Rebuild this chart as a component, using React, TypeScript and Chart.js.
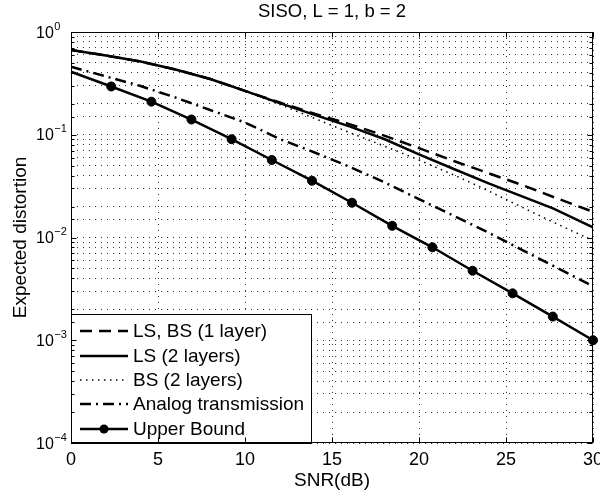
import React, { useEffect, useRef } from 'react';
import { Chart, registerables } from 'chart.js';
Chart.register(...registerables);

// ---- text ----
const chartTitle = 'SISO, L = 1, b = 2';
const xAxisTitle = 'SNR(dB)';
const yAxisTitle = 'Expected distortion';
const xTickValues = [0, 5, 10, 15, 20, 25, 30];
const yTickExponents = [0, -1, -2, -3, -4];

// ---- data ----
const snrGrid = [0, 2, 4, 6, 8, 10, 12, 14, 16, 18, 20, 22, 24, 26, 28, 30];
const lsBs1Layer = [0.668, 0.591, 0.516, 0.432, 0.349, 0.267, 0.206, 0.160, 0.127, 0.0981, 0.0741, 0.0555, 0.0422, 0.0321, 0.0238, 0.0178];
const ls2LayersSnr = [0, 2, 4, 6, 8, 10, 12, 14, 16, 18, 20, 22, 24, 26, 27.7, 30];
const ls2Layers = [0.668, 0.591, 0.516, 0.432, 0.349, 0.267, 0.203, 0.156, 0.1206, 0.0909, 0.0644, 0.0464, 0.0337, 0.0249, 0.0192, 0.01257];
const bs2Layers = [0.668, 0.591, 0.516, 0.432, 0.349, 0.267, 0.197, 0.144, 0.1052, 0.0777, 0.0568, 0.0406, 0.0284, 0.0194, 0.01338, 0.00935];
const analogTx = [0.459, 0.370, 0.298, 0.2304, 0.1741, 0.1316, 0.0908, 0.0672, 0.0489, 0.0345, 0.0236, 0.01626, 0.01116, 0.00747, 0.00500, 0.00336];
const upperSnr = [0, 2.31, 4.62, 6.92, 9.23, 11.54, 13.85, 16.15, 18.46, 20.77, 23.08, 25.38, 27.69, 30];
const upperBound = [0.41, 0.295, 0.210, 0.1407, 0.0905, 0.0568, 0.0357, 0.0218, 0.0130, 0.00803, 0.00475, 0.00286, 0.00170, 0.0010];
const seriesLabels = ['LS, BS (1 layer)', 'LS (2 layers)', 'BS (2 layers)', 'Analog transmission', 'Upper Bound'];

const FONT = '"Liberation Sans", Arial, Helvetica, sans-serif';

const pts = (xs: number[], ys: number[]) => xs.map((x, i) => ({ x, y: ys[i] }));

const decorPlugin = {
  id: 'decor',
  afterDraw(chart: any) {
    const { ctx, chartArea: a, scales } = chart;
    const xs = scales.x;
    const ys = scales.y;
    ctx.save();
    ctx.fillStyle = '#000';
    ctx.strokeStyle = '#000';

    // legend
    const lx = a.left, lw = 240, lh = 129, ly = a.bottom - lh;
    ctx.fillStyle = '#fff';
    ctx.fillRect(lx, ly, lw, lh);
    ctx.lineWidth = 1;
    ctx.setLineDash([]);
    ctx.strokeRect(Math.round(lx) + 0.5, Math.round(ly) + 0.5, lw, lh);
    const rowY = [17, 42, 66, 90, 115];
    chart.data.datasets.forEach((ds: any, i: number) => {
      const y = ly + rowY[i];
      ctx.save();
      ctx.strokeStyle = '#000';
      ctx.lineWidth = ds.borderWidth;
      ctx.setLineDash(ds.borderDash || []);
      ctx.beginPath();
      ctx.moveTo(lx + 9, y);
      ctx.lineTo(lx + 57, y);
      ctx.stroke();
      ctx.setLineDash([]);
      if (ds.legendMarker) {
        ctx.fillStyle = '#000';
        ctx.beginPath();
        ctx.arc(lx + 33, y, 4.5, 0, Math.PI * 2);
        ctx.fill();
      }
      ctx.fillStyle = '#000';
      ctx.font = `19px ${FONT}`;
      ctx.textAlign = 'left';
      ctx.textBaseline = 'middle';
      ctx.fillText(ds.label, lx + 62, y + 1);
      ctx.restore();
    });

    // frame
    ctx.setLineDash([]);
    ctx.lineWidth = 1;
    ctx.strokeStyle = '#000';
    const L = Math.round(a.left) + 0.5, R = Math.round(a.right) - 0.5;
    const T = Math.round(a.top) + 0.5, B = Math.round(a.bottom) - 0.5;
    ctx.strokeRect(L, T, R - L, B - T);

    // x ticks (inward, bottom & top)
    ctx.beginPath();
    xTickValues.forEach((v) => {
      const px = Math.round(xs.getPixelForValue(v)) + 0.5;
      ctx.moveTo(px, B); ctx.lineTo(px, B - 5);
      ctx.moveTo(px, T); ctx.lineTo(px, T + 5);
    });
    // y ticks (inward, left & right)
    ys.ticks.forEach((t: any) => {
      const lg = Math.log10(t.value);
      const major = Math.abs(lg - Math.round(lg)) < 1e-6;
      const len = major ? 5 : 3;
      const py = Math.round(ys.getPixelForValue(t.value)) + 0.5;
      ctx.moveTo(L, py); ctx.lineTo(L + len, py);
      ctx.moveTo(R, py); ctx.lineTo(R - len, py);
    });
    ctx.stroke();

    // x tick labels
    ctx.fillStyle = '#000';
    ctx.font = `18px ${FONT}`;
    ctx.textAlign = 'center';
    ctx.textBaseline = 'alphabetic';
    xTickValues.forEach((v) => {
      ctx.fillText(String(v), xs.getPixelForValue(v), 465);
    });

    // y tick labels 10^e
    yTickExponents.forEach((e) => {
      const py = ys.getPixelForValue(Math.pow(10, e));
      ctx.font = `16px ${FONT}`;
      ctx.textAlign = 'left';
      ctx.textBaseline = 'alphabetic';
      ctx.fillText('10', 36, py + 5.5);
      const w = ctx.measureText('10').width;
      ctx.font = `11px ${FONT}`;
      ctx.fillText(e === 0 ? '0' : '\u2212' + String(-e), 36 + w + 0.5, py - 2.5);
    });

    // titles
    ctx.font = `18.5px ${FONT}`;
    ctx.textAlign = 'center';
    ctx.textBaseline = 'alphabetic';
    ctx.fillText(chartTitle, (a.left + a.right) / 2, 17);
    ctx.font = `19px ${FONT}`;
    ctx.fillText(xAxisTitle, (a.left + a.right) / 2, 486);
    ctx.save();
    ctx.translate(26, (a.top + a.bottom) / 2);
    ctx.rotate(-Math.PI / 2);
    ctx.fillText(yAxisTitle, 0, 0);
    ctx.restore();

    ctx.restore();
  },
};

export default function App() {
  const ref = useRef<HTMLCanvasElement | null>(null);
  useEffect(() => {
    if (!ref.current) return;
    const base = { borderColor: '#000', backgroundColor: '#000', fill: false, tension: 0, pointRadius: 0, pointHoverRadius: 0 };
    const chart = new Chart(ref.current, {
      type: 'line',
      data: {
        datasets: [
          { ...base, label: seriesLabels[0], data: pts(snrGrid, lsBs1Layer), borderWidth: 2.5, borderDash: [12, 7] },
          { ...base, label: seriesLabels[1], data: pts(ls2LayersSnr, ls2Layers), borderWidth: 2.5, borderDash: [] },
          { ...base, label: seriesLabels[2], data: pts(snrGrid, bs2Layers), borderWidth: 1.5, borderDash: [1.5, 4.5] },
          { ...base, label: seriesLabels[3], data: pts(snrGrid, analogTx), borderWidth: 2.5, borderDash: [11, 5, 2, 5] },
          {
            ...base, label: seriesLabels[4], data: pts(upperSnr, upperBound), borderWidth: 2.5, borderDash: [],
            pointRadius: upperSnr.map((_, i) => (i === 0 ? 0 : 4.5)), pointBackgroundColor: '#000', pointBorderColor: '#000',
            pointBorderWidth: 1, clip: false, legendMarker: true,
          } as any,
        ],
      },
      options: {
        responsive: false,
        animation: false,
        events: [],
        layout: { padding: { left: 0, right: 7, top: 32, bottom: 0 } },
        plugins: { legend: { display: false }, title: { display: false }, tooltip: { enabled: false } },
        scales: {
          x: {
            type: 'linear', min: 0, max: 30,
            ticks: { display: false, stepSize: 5, autoSkip: false },
            grid: { color: 'rgba(0,0,0,0.8)', lineWidth: 1, drawTicks: false },
            border: { display: false, dash: [1, 5] },
            afterFit: (s: any) => { s.height = 47; },
          },
          y: {
            type: 'logarithmic', min: 1e-4, max: 1,
            ticks: { display: false, autoSkip: false },
            grid: { color: 'rgba(0,0,0,0.8)', lineWidth: 1, drawTicks: false },
            border: { display: false, dash: [1, 5] },
            afterFit: (s: any) => { s.width = 71; },
          },
        },
      } as any,
      plugins: [decorPlugin],
    });
    return () => chart.destroy();
  }, []);
  return (
    <div style={{ position: 'fixed', left: 0, top: 0, width: 600, height: 490, background: '#fff' }}>
      <canvas ref={ref} width={600} height={490} style={{ display: 'block' }} />
    </div>
  );
}
